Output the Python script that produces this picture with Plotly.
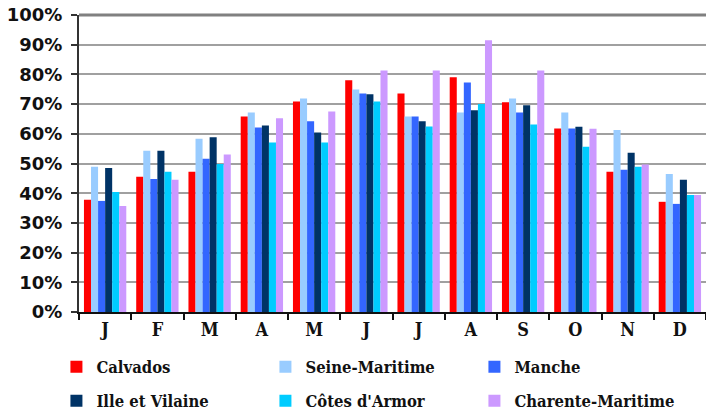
import plotly.graph_objects as go

months = ["Jan", "Feb", "Mar", "Apr", "May", "Jun", "Jul", "Aug", "Sep", "Oct", "Nov", "Dec"]
month_labels = ["J", "F", "M", "A", "M", "J", "J", "A", "S", "O", "N", "D"]

series_names = ["Calvados", "Seine-Maritime", "Manche", "Ille et Vilaine", "Côtes d'Armor", "Charente-Maritime"]
series_colors = ["#FF0000", "#99CCFF", "#3366FF", "#003366", "#00CCFF", "#CC99FF"]

calvados = [37.8, 45.5, 47.2, 65.8, 70.9, 78.0, 73.6, 79.0, 70.6, 61.8, 47.2, 37.1]
seine_maritime = [48.9, 54.3, 58.3, 67.2, 71.9, 74.9, 65.8, 67.2, 71.9, 67.2, 61.3, 46.5]
manche = [37.4, 44.8, 51.6, 62.1, 64.2, 73.6, 65.8, 77.3, 67.2, 61.8, 47.9, 36.4]
ille_et_vilaine = [48.5, 54.3, 58.8, 62.8, 60.4, 73.3, 64.2, 67.9, 69.6, 62.4, 53.6, 44.5]
cotes_armor = [40.4, 47.2, 49.8, 57.1, 57.1, 70.9, 62.5, 70.0, 63.1, 55.6, 48.9, 39.4]
charente_maritime = [35.7, 44.5, 53.0, 65.2, 67.5, 81.3, 81.3, 91.5, 81.3, 61.7, 49.7, 39.4]

series_values = [calvados, seine_maritime, manche, ille_et_vilaine, cotes_armor, charente_maritime]

fig = go.Figure()
for i, (name, color, vals) in enumerate(zip(series_names, series_colors, series_values)):
    fig.add_trace(go.Bar(
        x=months,
        y=[v / 100 for v in vals],
        name=name,
        marker=dict(color=color, line=dict(width=0)),
        legend="legend" if i < 3 else "legend2",
    ))

legend_font = dict(family="DejaVu Serif Condensed", size=16.5, color="#111111", weight="bold")

fig.update_layout(
    width=706,
    height=416,
    margin=dict(l=79, r=0, t=15, b=104, autoexpand=False),
    paper_bgcolor="white",
    plot_bgcolor="white",
    barmode="group",
    bargap=0.19,
    bargroupgap=0,
    legend=dict(
        orientation="h",
        entrywidth=164,
        entrywidthmode="pixels",
        x=-0.036,
        xanchor="left",
        y=-0.185,
        yanchor="middle",
        font=legend_font,
        bgcolor="rgba(0,0,0,0)",
        itemclick=False,
    ),
    legend2=dict(
        orientation="h",
        entrywidth=164,
        entrywidthmode="pixels",
        x=-0.036,
        xanchor="left",
        y=-0.30,
        yanchor="middle",
        font=legend_font,
        bgcolor="rgba(0,0,0,0)",
        itemclick=False,
    ),
    xaxis=dict(
        tickmode="array",
        tickvals=months,
        ticktext=month_labels,
        tickfont=dict(family="DejaVu Serif Condensed", size=18, color="#111111", weight="bold"),
        showline=True,
        linecolor="#111111",
        linewidth=2,
        ticks="outside",
        tickson="boundaries",
        ticklen=6,
        tickwidth=2,
        tickcolor="#111111",
        showgrid=False,
        fixedrange=True,
        automargin=False,
    ),
    yaxis=dict(
        range=[0, 1],
        tickformat=".0%",
        dtick=0.1,
        tickfont=dict(family="DejaVu Sans", size=18, color="#111111", weight="bold"),
        ticklabelstandoff=5,
        showline=True,
        linecolor="#333333",
        linewidth=2,
        ticks="outside",
        ticklen=6,
        tickwidth=1.5,
        tickcolor="#333333",
        showgrid=True,
        gridcolor="#A0A0A0",
        gridwidth=1.5,
        zeroline=False,
        fixedrange=True,
        automargin=False,
    ),
    shapes=[dict(type="line", xref="paper", yref="paper", x0=0, x1=1, y0=1, y1=1,
                 line=dict(color="#808080", width=3))],
)

fig.write_html("out.html", config={"displayModeBar": False},
               post_script="document.body.style.margin='0';")
